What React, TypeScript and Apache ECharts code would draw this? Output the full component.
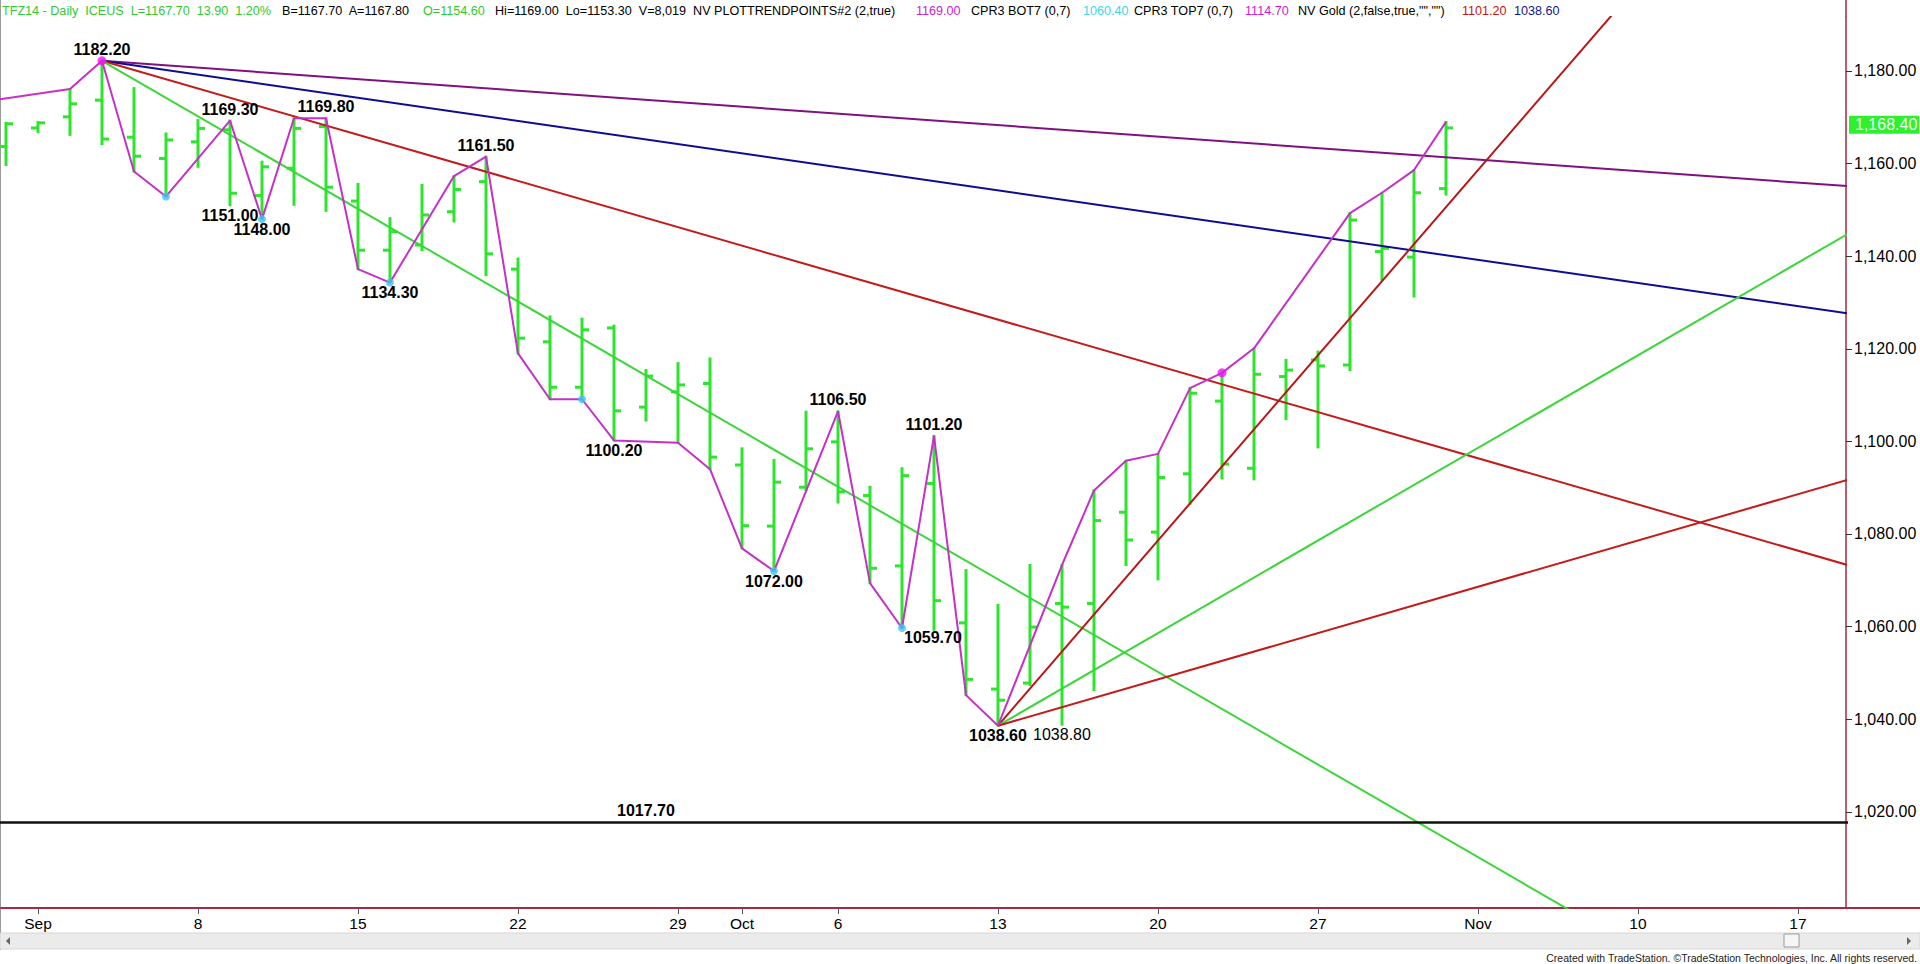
import React, { useEffect, useRef } from "react";
import * as echarts from "echarts";

const FONT = '"Liberation Sans", Arial, Helvetica, sans-serif';

// Trading-day index: 0 = Aug 29 2014, 1 = Sep 1, ... 45 = Oct 31
const opens = [
  1163.7, 1167.7, 1170.1, 1173.7, 1165.7, 1161.1, 1164.7, 1167.3, 1153.1, 1159.0,
  1168.0, 1151.9, 1141.3, 1142.4, 1149.6, 1156.1, 1137.2, 1121.5, 1111.7, 1124.5,
  1107.4, 1110.7, 1112.5, 1094.9, 1081.7, 1090.1, 1099.9, 1088.3, 1073.1, 1090.9,
  1060.8, 1046.5, 1047.8, 1065.0, 1065.0, 1084.7, 1080.4, 1093.0, 1108.7, 1094.2,
  1114.0, 1117.6, 1116.5, 1141.0, 1139.8, 1154.6,
];
const highs = [
  1168.8, 1169.0, 1176.1, 1182.2, 1176.3, 1166.5, 1169.4, 1169.3, 1160.4, 1169.8,
  1169.8, 1155.6, 1148.2, 1155.4, 1157.3, 1161.5, 1139.5, 1127.0, 1126.5, 1125.0,
  1115.4, 1116.9, 1117.9, 1098.5, 1096.0, 1106.4, 1106.5, 1090.2, 1094.2, 1101.2,
  1072.2, 1064.7, 1073.3, 1073.3, 1089.4, 1095.8, 1097.3, 1111.5, 1114.8, 1120.1,
  1117.6, 1119.4, 1149.3, 1153.7, 1158.6, 1169.0,
];
const lows = [
  1159.7, 1166.8, 1166.2, 1164.2, 1158.3, 1152.9, 1159.3, 1151.0, 1148.0, 1151.1,
  1149.8, 1137.2, 1134.3, 1141.3, 1147.5, 1135.9, 1119.0, 1109.1, 1109.1, 1100.2,
  1104.5, 1099.7, 1094.0, 1076.9, 1072.0, 1089.5, 1086.8, 1069.4, 1059.7, 1059.3,
  1045.2, 1038.6, 1047.4, 1038.8, 1046.3, 1073.3, 1070.2, 1086.5, 1092.0, 1091.8,
  1104.8, 1098.7, 1115.4, 1134.9, 1131.3, 1153.3,
];
const closes = [
  1168.6, 1168.8, 1172.9, 1165.3, 1161.6, 1165.1, 1167.6, 1153.6, 1159.3, 1167.6,
  1154.9, 1141.3, 1145.3, 1148.9, 1154.4, 1140.5, 1122.3, 1111.7, 1124.1, 1106.6,
  1114.1, 1112.2, 1096.6, 1081.8, 1091.2, 1098.4, 1089.1, 1072.6, 1092.6, 1065.6,
  1048.6, 1044.1, 1059.9, 1064.2, 1082.9, 1078.7, 1092.2, 1110.4, 1095.1, 1114.5,
  1115.4, 1116.3, 1147.8, 1141.7, 1153.7, 1167.7,
];

// swing (zigzag) line vertices
const zigIdx = [-1, 2, 3, 4, 5, 7, 8, 9, 10, 11, 12, 14, 15, 16, 17, 18, 19, 21, 22, 23, 24, 26, 27, 28, 29, 30, 31, 33, 34, 35, 36, 37, 38, 39, 42, 43, 44, 45];
const zigVal = [1173.1, 1176.1, 1182.2, 1158.3, 1152.9, 1169.3, 1148.0, 1169.8, 1169.8, 1137.2, 1134.3, 1157.3, 1161.5, 1119.0, 1109.1, 1109.1, 1100.2, 1099.7, 1094.0, 1076.9, 1072.0, 1106.5, 1069.4, 1059.7, 1101.2, 1045.2, 1038.6, 1073.3, 1089.4, 1095.8, 1097.3, 1111.5, 1114.8, 1120.1, 1149.3, 1153.7, 1158.6, 1169.0];

// CPR3 markers
const botDotIdx = [5, 8, 12, 18, 24, 28];
const botDotVal = [1152.9, 1148.0, 1134.3, 1109.1, 1072.0, 1059.7];
const topDotIdx = [3, 38];
const topDotVal = [1182.2, 1114.8];

// trend lines: [x1, y1, x2, y2]
const trendLines = [
  [3, 1182.2, 58, 1154.9],
  [3, 1182.2, 58, 1127.2],
  [3, 1182.2, 58, 1072.4],
  [3, 1182.2, 58, 962.2],
  [31, 1038.6, 58, 1254.6],
  [31, 1038.6, 58, 1146.6],
  [31, 1038.6, 58, 1092.6],
];
const trendColors = ["#80127f", "#0c0c94", "#c41a1a", "#3ad63a", "#b81616", "#3ad63a", "#c41a1a"];

const supportLevel = 1017.7;
const supportLabelIdx = 20;

// swing labels
const labelIdx = [3, 7, 10, 7, 8, 12, 15, 19, 24, 26, 29, 28, 31, 33];
const labelVal = [1182.2, 1169.3, 1169.8, 1151.0, 1148.0, 1134.3, 1161.5, 1100.2, 1072.0, 1106.5, 1101.2, 1059.7, 1038.6, 1038.8];
const labelPlace = ["above", "above", "above", "below", "below", "below", "above", "below", "below", "above", "above", "belowRight", "below", "below"];
const labelBold = [true, true, true, true, true, true, true, true, true, true, true, true, true, false];

const xTickIdx = [1, 6, 11, 16, 21, 23, 26, 31, 36, 41, 46, 51, 56];
const xTickLabels = ["Sep", "8", "15", "22", "29", "Oct", "6", "13", "20", "27", "Nov", "10", "17"];
const yTicks = [1020, 1040, 1060, 1080, 1100, 1120, 1140, 1160, 1180];
const lastPrice = 1168.4;

const headerText = [
  "TFZ14 - Daily  ICEUS  L=1167.70  13.90  1.20%",
  "B=1167.70  A=1167.80",
  "O=1154.60",
  "Hi=1169.00  Lo=1153.30  V=8,019  NV PLOTTRENDPOINTS#2 (2,true)",
  "1169.00",
  "CPR3 BOT7 (0,7)",
  "1060.40",
  "CPR3 TOP7 (0,7)",
  "1114.70",
  'NV Gold (2,false,true,"","")',
  "1101.20",
  "1038.60",
];
const headerX = [2, 282, 423, 495, 916, 971, 1083, 1134, 1245, 1298, 1462, 1514];
const headerColor = ["#33c833", "#000", "#33c833", "#000", "#cc22cc", "#000", "#3fd6e0", "#000", "#cc22cc", "#000", "#c81414", "#14148c"];

const BAR = "#2ee52e";
const AXIS = "#a8283c";
const fmtY = (v: number) =>
  v.toLocaleString("en-US", { minimumFractionDigits: 2, maximumFractionDigits: 2 });

export default function App() {
  const ref = useRef<HTMLDivElement>(null);
  useEffect(() => {
    const el = ref.current!;
    const chart = echarts.init(el, undefined, { renderer: "svg" });

    const ohlc = opens.map((o, i) => [i, o, highs[i], lows[i], closes[i]]);

    const series: any[] = [];
    series.push({
      type: "custom",
      name: "bars",
      data: ohlc,
      z: 2,
      silent: true,
      renderItem: (_p: any, api: any) => {
        const x = api.value(0);
        const pH = api.coord([x, api.value(2)]);
        const pL = api.coord([x, api.value(3)]);
        const pO = api.coord([x, api.value(1)]);
        const pC = api.coord([x, api.value(4)]);
        const st = { stroke: BAR, lineWidth: 3 };
        return {
          type: "group",
          children: [
            { type: "line", shape: { x1: pH[0], y1: pH[1] - 1, x2: pL[0], y2: pL[1] + 1 }, style: st },
            { type: "line", shape: { x1: pO[0] - 7, y1: pO[1], x2: pO[0], y2: pO[1] }, style: st },
            { type: "line", shape: { x1: pC[0], y1: pC[1], x2: pC[0] + 7, y2: pC[1] }, style: st },
          ],
        };
      },
    });

    trendLines.forEach((t, k) => {
      series.push({
        type: "line",
        data: [[t[0], t[1]], [t[2], t[3]]],
        symbol: "none",
        clip: true,
        silent: true,
        z: 3,
        lineStyle: { color: trendColors[k], width: 2 },
      });
    });

    series.push({
      type: "line",
      data: [[-2, supportLevel], [60, supportLevel]],
      symbol: "none",
      clip: true,
      silent: true,
      z: 3,
      lineStyle: { color: "#111", width: 2.5 },
    });

    series.push({
      type: "line",
      data: zigIdx.map((x, k) => [x, zigVal[k]]),
      symbol: "none",
      clip: true,
      silent: true,
      z: 4,
      lineStyle: { color: "#c630c6", width: 2 },
    });

    series.push({
      type: "scatter",
      data: botDotIdx.map((x, k) => [x, botDotVal[k]]),
      symbol: "circle",
      symbolSize: 8,
      silent: true,
      z: 5,
      itemStyle: { color: "#3cc6f2" },
    });
    series.push({
      type: "scatter",
      data: topDotIdx.map((x, k) => [x, topDotVal[k]]),
      symbol: "circle",
      symbolSize: 9,
      silent: true,
      z: 5,
      itemStyle: { color: "#f014f0" },
    });

    const allLabelIdx = [...labelIdx, supportLabelIdx];
    const allLabelVal = [...labelVal, supportLevel];
    const allLabelPlace = [...labelPlace, "above"];
    const allLabelBold = [...labelBold, true];
    series.push({
      type: "custom",
      data: allLabelIdx.map((x, k) => [x, allLabelVal[k]]),
      z: 6,
      silent: true,
      renderItem: (params: any, api: any) => {
        const k = params.dataIndex;
        const p = api.coord([api.value(0), api.value(1)]);
        const place = allLabelPlace[k];
        let dx = 0;
        let dy = place === "above" ? -11.5 : 10;
        let align = "center";
        if (place === "belowRight") {
          dx = 2;
          align = "left";
        }
        return {
          type: "text",
          x: p[0] + dx,
          y: p[1] + dy,
          style: {
            text: allLabelVal[k].toFixed(2),
            fill: "#000",
            font: `${allLabelBold[k] ? "bold " : ""}16px ${FONT}`,
            align,
            verticalAlign: "middle",
          },
        };
      },
    });

    series.push({
      type: "custom",
      data: [[57.5, lastPrice]],
      z: 10,
      silent: true,
      clip: false,
      renderItem: (params: any, api: any) => {
        const p = api.coord([api.value(0), api.value(1)]);
        const cs = params.coordSys;
        const x0 = cs.x + cs.width + 3;
        return {
          type: "group",
          children: [
            { type: "rect", shape: { x: x0, y: p[1] - 9, width: 70, height: 18 }, style: { fill: "#2ef02e" } },
            {
              type: "text",
              x: x0 + 6,
              y: p[1],
              style: { text: fmtY(api.value(1)), fill: "#f4fff4", font: `16px ${FONT}`, align: "left", verticalAlign: "middle" },
            },
          ],
        };
      },
    });

    const gridLeft = 1, gridRight = 74, gridTop = 17, gridBottom = 56;
    const axisX = 1920 - gridRight;
    const axisY = 964 - gridBottom;

    const graphic: any[] = [];
    headerText.forEach((t, k) => {
      graphic.push({
        type: "text",
        x: headerX[k],
        y: 11,
        silent: true,
        style: { text: t, fill: headerColor[k], font: `12.6px ${FONT}`, verticalAlign: "middle" },
      });
    });
    graphic.push(
      { type: "line", silent: true, shape: { x1: axisX, y1: 0, x2: axisX, y2: gridTop }, style: { stroke: AXIS, lineWidth: 1.5 } },
      { type: "line", silent: true, shape: { x1: axisX, y1: axisY, x2: 1920, y2: axisY }, style: { stroke: AXIS, lineWidth: 2 } },
      { type: "line", silent: true, shape: { x1: 0.5, y1: 0, x2: 0.5, y2: 950 }, style: { stroke: "#9a9a9a", lineWidth: 1 } },
      { type: "rect", silent: true, shape: { x: 0, y: 933, width: 1920, height: 16 }, style: { fill: "#ebebeb", stroke: "#d6d6d6", lineWidth: 1 } },
      { type: "polygon", silent: true, shape: { points: [[10, 937], [10, 945], [6, 941]] }, style: { fill: "#666" } },
      { type: "polygon", silent: true, shape: { points: [[1907, 937], [1907, 945], [1911, 941]] }, style: { fill: "#666" } },
      { type: "rect", silent: true, shape: { x: 1784, y: 934, width: 15, height: 13 }, style: { fill: "#f6f6f6", stroke: "#9a9a9a", lineWidth: 1 } },
      {
        type: "text",
        x: 1917,
        y: 958,
        silent: true,
        style: {
          text: "Created with TradeStation. \u00A9TradeStation Technologies, Inc. All rights reserved.",
          fill: "#222",
          font: `10.5px ${FONT}`,
          align: "right",
          verticalAlign: "middle",
        },
      }
    );

    const option: any = {
      animation: false,
      backgroundColor: "#ffffff",
      grid: { left: gridLeft, right: gridRight, top: gridTop, bottom: gridBottom, containLabel: false },
      xAxis: {
        type: "value",
        min: -0.156,
        max: 57.5,
        axisLine: { show: true, onZero: false, lineStyle: { color: AXIS, width: 2 } },
        axisTick: { show: true, customValues: xTickIdx, length: 6, lineStyle: { color: "#555" } },
        axisLabel: {
          customValues: xTickIdx,
          formatter: (v: number) => {
            const k = xTickIdx.indexOf(Math.round(v));
            return k >= 0 ? xTickLabels[k] : "";
          },
          color: "#000",
          fontSize: 15.5,
          fontFamily: FONT,
          margin: 7,
        },
        splitLine: { show: false },
      },
      yAxis: {
        type: "value",
        position: "right",
        min: 999.22,
        max: 1191.66,
        axisLine: { show: true, onZero: false, lineStyle: { color: AXIS, width: 1.5 } },
        axisTick: { show: true, customValues: yTicks, length: 6, lineStyle: { color: "#333" } },
        axisLabel: {
          customValues: yTicks,
          formatter: (v: number) => fmtY(v),
          color: "#000",
          fontSize: 16,
          fontFamily: FONT,
          margin: 8,
        },
        splitLine: { show: false },
      },
      series,
      graphic,
    };

    chart.setOption(option);
    return () => chart.dispose();
  }, []);

  return (
    <div
      ref={ref}
      style={{ position: "fixed", left: 0, top: 0, width: 1920, height: 964, background: "#fff" }}
    />
  );
}
